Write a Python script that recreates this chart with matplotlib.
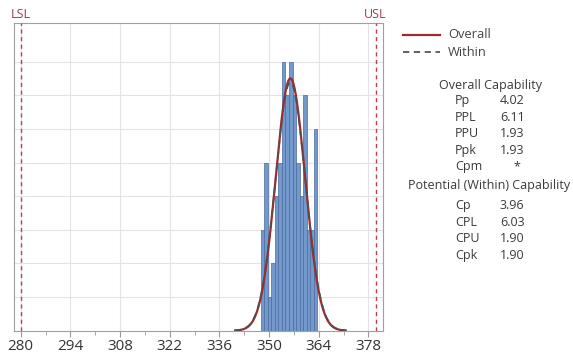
import numpy as np
import matplotlib
matplotlib.use("Agg")
import matplotlib.pyplot as plt

# ---- data ----
counts = [3, 5, 1, 2, 4, 5, 8, 7, 8, 7, 5, 4, 7, 3, 3, 6]
bin_start = 347.6
bin_width = 1.0
mean = 356.0
sd_overall = 4.146
sd_within = 4.209
lsl = 280
usl = 380
x_ticks = [280, 294, 308, 322, 336, 350, 364, 378]
overall_labels = ["Pp", "PPL", "PPU", "Ppk", "Cpm"]
overall_values = ["4.02", "6.11", "1.93", "1.93", "*"]
within_labels = ["Cp", "CPL", "CPU", "Cpk"]
within_values = ["3.96", "6.03", "1.90", "1.90"]

plt.rcParams['font.family'] = ['Open Sans', 'DejaVu Sans']

W, H = 573, 356
fig = plt.figure(figsize=(W / 100, H / 100), dpi=100)
ax = fig.add_axes([14 / W, (H - 330.7) / H, 369 / W, 307.7 / H])

edges = bin_start + bin_width * np.arange(len(counts) + 1)
ax.bar(edges[:-1], counts, width=bin_width, align='edge',
       color='#7398CB', edgecolor='#4A6B9E', linewidth=0.5, zorder=3)

n = sum(counts)

def pdf_curve(sd):
    xs = np.linspace(mean - 3.75 * sd, mean + 3.75 * sd, 300)
    ys = n * bin_width * np.exp(-0.5 * ((xs - mean) / sd) ** 2) / (sd * np.sqrt(2 * np.pi))
    return xs, ys

xo, yo = pdf_curve(sd_overall)
ax.plot(xo, yo, color='#9E2B2E', lw=1.6, zorder=4)
xw, yw = pdf_curve(sd_within)
ax.plot(xw, yw, color='#505050', lw=1.2, ls=(0, (4, 3)), zorder=5)

for v, lab in [(lsl, 'LSL'), (usl, 'USL')]:
    ax.axvline(v, color='#C0404A', lw=1.0, ls=(0, (3, 2.5)), zorder=4)
    ax.text(v, 9.22, lab, ha='center', va='bottom', fontsize=9, color='#A3394A',
            clip_on=False)

ax.set_xlim(278.1, 382.1)
ax.set_ylim(0, 9.15)
ax.set_xticks(x_ticks)
ax.set_xticks([t + 7 for t in x_ticks[:-1]], minor=True)
ax.set_xticklabels([str(t) for t in x_ticks], fontsize=11, color='#333333')
ax.tick_params(axis='x', which='major', length=4, color='#999999', pad=2)
ax.tick_params(axis='x', which='minor', length=3, color='#999999')
ax.set_yticks(range(1, 9))
ax.set_yticklabels([])
ax.tick_params(axis='y', length=0)
ax.grid(True, which='major', color='#E3E3E3', lw=0.8, zorder=0)
ax.set_axisbelow(True)
for s in ax.spines.values():
    s.set_color('#A0A0A0')
    s.set_linewidth(0.8)

# ---- legend ----
def px(x, y):
    return x / W, 1 - y / H

fig.add_artist(plt.Line2D([403 / W, 440 / W], [1 - 35 / H] * 2, color='#9E2B2E', lw=1.6))
fig.add_artist(plt.Line2D([403 / W, 440 / W], [1 - 52.3 / H] * 2, color='#555555', lw=1.3,
                          ls=(0, (3.5, 2.5))))
fig.text(*px(448, 35), 'Overall', fontsize=9.3, color='#444444', va='center', ha='left')
fig.text(*px(448, 52.3), 'Within', fontsize=9.3, color='#444444', va='center', ha='left')

tc = '#3A3A3A'
fs = 9.0
fig.text(*px(490, 85), 'Overall Capability', fontsize=fs, color=tc, ha='center', va='center')
y0 = 100.7
for i, (lab, val) in enumerate(zip(overall_labels, overall_values)):
    y = y0 + i * 16.5
    fig.text(*px(455, y), lab, fontsize=fs, color=tc, ha='left', va='center')
    if val == '*':
        fig.text(*px(517, y), val, fontsize=fs, color=tc, ha='center', va='center')
    else:
        fig.text(*px(500, y), val, fontsize=fs, color=tc, ha='left', va='center')
fig.text(*px(489, 185.7), 'Potential (Within) Capability', fontsize=fs, color=tc,
         ha='center', va='center')
y0 = 205.7
for i, (lab, val) in enumerate(zip(within_labels, within_values)):
    y = y0 + i * 16.5
    fig.text(*px(455, y), lab, fontsize=fs, color=tc, ha='left', va='center')
    fig.text(*px(500, y), val, fontsize=fs, color=tc, ha='left', va='center')

fig.savefig('out.png', dpi=100)
